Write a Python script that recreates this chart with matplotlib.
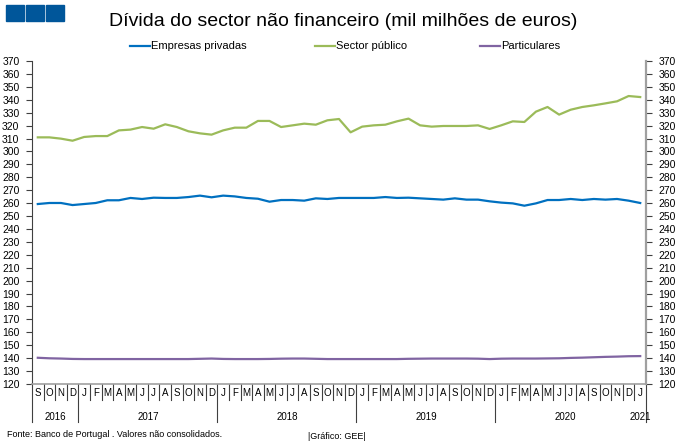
import numpy as np
import matplotlib
matplotlib.use("Agg")
import matplotlib.pyplot as plt
from matplotlib.patches import Rectangle
from matplotlib.lines import Line2D
from matplotlib.transforms import blended_transform_factory

plt.rcParams['font.family'] = ['Liberation Sans', 'DejaVu Sans']

# Set 2016 -> Jan 2021, monthly
months = ["S", "O", "N", "D",
          "J", "F", "M", "A", "M", "J", "J", "A", "S", "O", "N", "D",
          "J", "F", "M", "A", "M", "J", "J", "A", "S", "O", "N", "D",
          "J", "F", "M", "A", "M", "J", "J", "A", "S", "O", "N", "D",
          "J", "F", "M", "A", "M", "J", "J", "A", "S", "O", "N", "D",
          "J"]
years = ["2016", "2017", "2018", "2019", "2020", "2021"]
year_start = [0, 4, 16, 28, 40, 52]

empresas = [259.3, 260.1, 260.1, 258.5, 259.3, 260.1, 262.2, 262.2, 264.0, 263.2,
            264.2, 264.0, 264.0, 264.7, 265.8, 264.5, 265.8, 265.2, 264.0, 263.4,
            261.1, 262.4, 262.4, 261.9, 263.7, 263.2, 264.0, 264.0, 264.0, 264.0,
            264.7, 264.0, 264.2, 263.7, 263.2, 262.7, 263.7, 262.7, 262.7, 261.4,
            260.4, 259.8, 258.0, 259.8, 262.4, 262.4, 263.2, 262.4, 263.2, 262.7,
            263.2, 261.9, 260.1]
publico = [310.9, 310.9, 309.9, 308.3, 311.2, 311.9, 311.9, 316.3, 316.9, 318.9,
           317.6, 321.0, 318.9, 315.6, 314.0, 313.0, 316.3, 318.4, 318.4, 323.6,
           323.6, 318.9, 320.2, 321.5, 320.7, 324.1, 325.1, 314.8, 319.2, 320.2,
           320.7, 323.3, 325.4, 320.2, 319.2, 319.7, 319.7, 319.7, 320.2, 317.4,
           320.2, 323.3, 322.8, 330.8, 334.4, 328.5, 332.3, 334.4, 335.7, 337.2,
           338.8, 342.9, 342.1]
particulares = [140.3, 139.9, 139.7, 139.4, 139.3, 139.3, 139.3, 139.3, 139.3, 139.3,
                139.3, 139.3, 139.3, 139.3, 139.5, 139.7, 139.4, 139.3, 139.3, 139.3,
                139.4, 139.6, 139.7, 139.7, 139.5, 139.3, 139.3, 139.3, 139.3, 139.3,
                139.3, 139.3, 139.5, 139.6, 139.7, 139.7, 139.7, 139.7, 139.6, 139.3,
                139.6, 139.7, 139.7, 139.7, 139.8, 139.9, 140.2, 140.4, 140.7, 141.0,
                141.2, 141.5, 141.6]

c_blue = "#0070C0"
c_green = "#9BBB59"
c_purple = "#8064A2"

fig = plt.figure(figsize=(6.8, 4.48), dpi=100)
ax = fig.add_axes([32/680, 1 - 384/448, 614/680, 323/448])

x = np.arange(len(months))
ax.plot(x, empresas, color=c_blue, lw=1.6, label="Empresas privadas")
ax.plot(x, publico, color=c_green, lw=1.6, label="Sector público")
ax.plot(x, particulares, color=c_purple, lw=1.6, label="Particulares")

ax.set_xlim(-0.5, len(months) - 0.5)
ax.set_ylim(120, 370)
ax.set_yticks(np.arange(120, 371, 10))
ax.tick_params(axis="y", labelsize=7.5, length=4, width=0.8, color="#404040",
               left=True, right=True, labelleft=True, labelright=True, pad=5)
ax.set_xticks([])

ax.spines["top"].set_visible(False)
ax.spines["left"].set_color("#404040")
ax.spines["left"].set_linewidth(0.8)
ax.spines["right"].set_color("#A0A0A0")
ax.spines["right"].set_linewidth(1.6)
ax.spines["bottom"].set_color("#A0A0A0")
ax.spines["bottom"].set_linewidth(1.2)

# category axis drawn by hand: month letters, short ticks, year separators
tr = blended_transform_factory(ax.transData, ax.transAxes)
short = 16 / 323
long_ = 38 / 323
for k in range(len(months) + 1):
    b = k - 0.5
    ln = long_ if (k in year_start[:-1] or k == len(months)) else short
    ax.add_line(Line2D([b, b], [0, -ln], transform=tr, color="#404040",
                       lw=0.8, clip_on=False))
for i, m in enumerate(months):
    ax.text(i, -9 / 323, m, transform=tr, ha="center", va="center", fontsize=7)
ends = year_start[1:] + [len(months)]
for y, s, e in zip(years, year_start, ends):
    ax.text((s + e - 1) / 2, -33 / 323, y, transform=tr, ha="center",
            va="center", fontsize=7)

# title and logo
fig.text(343/680, 1 - 22/448, "Dívida do sector não financeiro (mil milhões de euros)",
         ha="center", va="center", fontsize=14)
for x0 in (6, 26, 46):
    fig.add_artist(Rectangle((x0/680, 1 - 21/448), 18/680, 16/448,
                             transform=fig.transFigure, color="#00569A"))

# legend
leg_items = [(130, c_blue, "Empresas privadas"),
             (315, c_green, "Sector público"),
             (480, c_purple, "Particulares")]
for lx, c, t in leg_items:
    fig.add_artist(Line2D([lx/680, (lx + 20)/680], [1 - 46/448] * 2,
                          transform=fig.transFigure, color=c, lw=1.6))
    fig.text((lx + 21)/680, 1 - 46/448, t, ha="left", va="center", fontsize=8)

# footer
fig.text(7/680, 1 - 434/448, "Fonte: Banco de Portugal . Valores não consolidados.",
         ha="left", va="center", fontsize=6.5)
fig.text(308/680, 1 - 436/448, "|Gráfico: GEE|", ha="left", va="center", fontsize=6.5)

fig.savefig("out.png", dpi=100)
